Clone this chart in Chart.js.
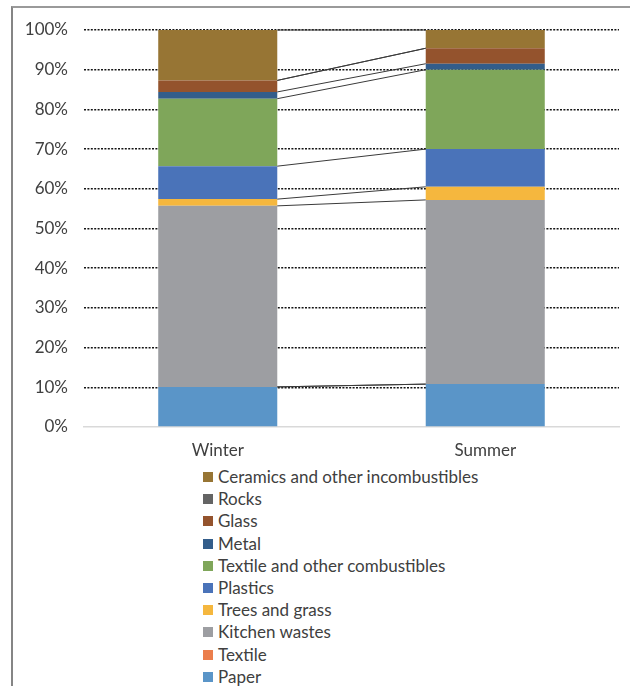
<!DOCTYPE html>
<html>
<head>
<meta charset="utf-8">
<script src="https://cdn.jsdelivr.net/npm/chart.js@4.4.1/dist/chart.umd.min.js"></script>
<style>
  html, body { margin: 0; padding: 0; background: #fff; }
  body { width: 630px; height: 686px; position: relative; overflow: hidden; font-family: Lato, "Open Sans", sans-serif; }
  #frame { position: absolute; left: 11px; top: 6px; width: 640px; height: 700px;
           border-left: 2px solid #858585; border-top: 2px solid #9a9a9a; box-sizing: border-box; }
  #wrap { position: absolute; left: 0; top: 0; width: 630px; height: 462px; }
  #legend { position: absolute; left: 203px; top: 466px; margin: 0; padding: 0; list-style: none; }
  #legend li { height: 22.2px; line-height: 22.2px; font-size: 17px; color: #404040; white-space: nowrap; display: flex; align-items: center; }
  #legend .box { width: 10px; height: 10px; margin-right: 5px; flex: none; }
</style>
</head>
<body>
<div id="frame"></div>
<div id="wrap"><canvas id="chart"></canvas></div>
<ul id="legend"></ul>
<script>
// Municipal solid waste composition by season (share of total, %)
const seasons = ['Winter', 'Summer'];

const paper        = [10.1, 10.8];
const textile      = [0, 0];
const kitchen      = [45.6, 46.4];
const treesGrass   = [1.7, 3.3];
const plastics     = [8.3, 9.5];
const textileOther = [17.0, 20.0];
const metal        = [1.7, 1.5];
const glass        = [2.9, 3.9];
const rocks        = [0, 0];
const ceramics     = [12.7, 4.6];

const yTicks = [0, 10, 20, 30, 40, 50, 60, 70, 80, 90, 100];

// stacking order, bottom to top
const series = [
  { label: 'Paper', data: paper, color: '#5A95C8' },
  { label: 'Textile', data: textile, color: '#EB7E4C' },
  { label: 'Kitchen wastes', data: kitchen, color: '#9D9EA2' },
  { label: 'Trees and grass', data: treesGrass, color: '#F5B73E' },
  { label: 'Plastics', data: plastics, color: '#4A73B9' },
  { label: 'Textile and other combustibles', data: textileOther, color: '#7FA65A' },
  { label: 'Metal', data: metal, color: '#335D8A' },
  { label: 'Glass', data: glass, color: '#94532D' },
  { label: 'Rocks', data: rocks, color: '#646464' },
  { label: 'Ceramics and other incombustibles', data: ceramics, color: '#977534' }
];

const FONT = 'Lato, "Open Sans", sans-serif';

// connector lines joining matching segment tops of neighbouring bars
const seriesLines = {
  id: 'seriesLines',
  afterDatasetsDraw(chart) {
    const ctx = chart.ctx;
    ctx.save();
    ctx.strokeStyle = '#3a3a3a';
    ctx.lineWidth = 1;
    chart.data.datasets.forEach((ds, i) => {
      const meta = chart.getDatasetMeta(i);
      for (let j = 0; j < meta.data.length - 1; j++) {
        const a = meta.data[j], b = meta.data[j + 1];
        ctx.beginPath();
        ctx.moveTo(a.x + a.width / 2, a.y);
        ctx.lineTo(b.x - b.width / 2, b.y);
        ctx.stroke();
      }
    });
    ctx.restore();
  }
};

const chart = new Chart(document.getElementById('chart'), {
  type: 'bar',
  data: {
    labels: seasons,
    datasets: series.map(s => ({
      label: s.label,
      data: s.data,
      backgroundColor: s.color,
      borderWidth: 0,
      categoryPercentage: 1,
      barPercentage: 0.445
    }))
  },
  options: {
    responsive: true,
    maintainAspectRatio: false,
    animation: false,
    layout: { padding: { top: 30, right: 11, left: 0, bottom: 0 } },
    plugins: { legend: { display: false }, tooltip: { enabled: false } },
    scales: {
      x: {
        stacked: true,
        grid: { display: false },
        border: { display: true, color: '#d9d9d9', width: 1.5 },
        ticks: { color: '#404040', font: { family: FONT, size: 17 }, padding: 5 },
        afterFit(scale) { scale.height = 35; }
      },
      y: {
        stacked: true,
        min: 0, max: 100,
        afterBuildTicks(scale) { scale.ticks = yTicks.map(v => ({ value: v })); },
        grid: {
          color: ctx => (ctx.tick && ctx.tick.value === 0) ? 'rgba(0,0,0,0)' : '#141414',
          lineWidth: 1.6,
          drawTicks: false
        },
        border: { display: false, dash: [2, 1.4] },
        ticks: { color: '#404040', font: { family: FONT, size: 17 }, padding: 16,
                 callback: v => v + '%' },
        afterFit(scale) { scale.width = 84; }
      }
    }
  },
  plugins: [seriesLines]
});

// legend list, top to bottom in reverse stacking order
const legend = document.getElementById('legend');
series.slice().reverse().forEach(s => {
  const li = document.createElement('li');
  const box = document.createElement('span');
  box.className = 'box';
  box.style.background = s.color;
  li.appendChild(box);
  li.appendChild(document.createTextNode(s.label));
  legend.appendChild(li);
});
</script>
</body>
</html>
